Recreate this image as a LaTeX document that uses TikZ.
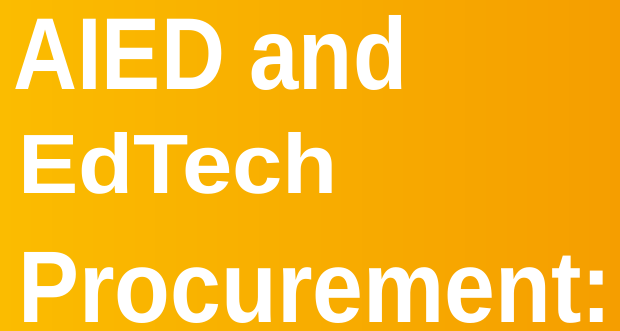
\documentclass[tikz,border=0pt]{standalone}
\usepackage{fontspec}
\setmainfont{Liberation Sans}
\definecolor{gold}{RGB}{251,188,0}
\definecolor{amber}{RGB}{245,158,0}
\begin{document}
\begin{tikzpicture}[x=1pt,y=1pt,title/.style={anchor=base west,inner sep=0pt,text=white,font=\bfseries}]
 \fill[left color=gold,right color=amber](0,0) rectangle (620,-330);
 \node[title] (aied) at (13,-89) {\resizebox{394pt}{74pt}{AIED and}};
 \node[title] (edtech) at (18,-193) {\resizebox{320pt}{61pt}{EdTech}};
 \node[title] (procurement) at (18,-322) {\resizebox{594pt}{70pt}{Procurement:}};
\end{tikzpicture}
\end{document}
